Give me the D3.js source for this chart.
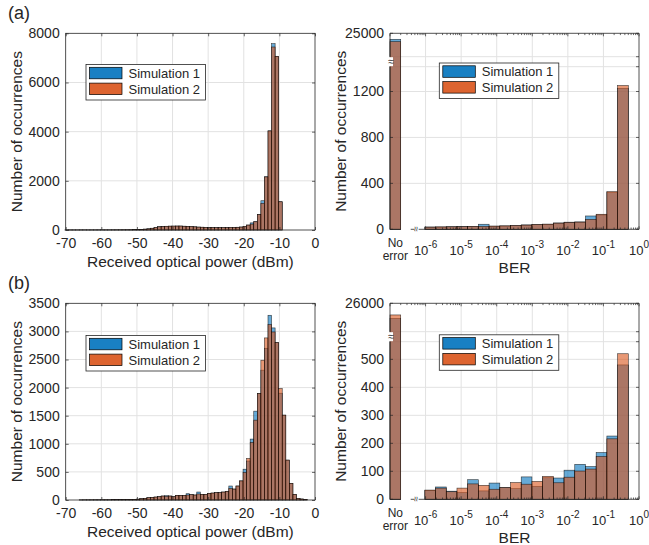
<!DOCTYPE html>
<html>
<head>
<meta charset="utf-8">
<script src="https://cdnjs.cloudflare.com/ajax/libs/d3/7.8.5/d3.min.js"></script>
<style>
  body { margin: 0; background: #fff; }
  svg { display: block; font-family: "Liberation Sans", Arial, sans-serif; }
</style>
</head>
<body>
<div id="chart"></div>
<script>
// ---------- data ----------
const legendLabels = ["Simulation 1", "Simulation 2"];
const panelLabels = ["(a)", "(b)"];

// received optical power histograms, 1 dBm bins starting at -70.2 dBm
const powerBinStart = -70.2;
const powerBinWidth = 1;
const powerTicks = [-70, -60, -50, -40, -30, -20, -10, 0];
const countTicksA = [0, 2000, 4000, 6000, 8000];
const countTicksB = [0, 500, 1000, 1500, 2000, 2500, 3000, 3500];

const powerA_sim1 = [
  4, 3, 4, 3, 5, 4, 4, 5, 4, 5, 6, 5, 6, 7, 7,
  8, 9, 10, 12, 15, 18,
  25, 35, 50, 70, 100,
  135, 145, 150, 155, 160, 162, 160, 155, 150, 140,
  130, 120, 112, 105, 100, 98, 96, 95, 96, 98,
  100, 105, 112, 122,
  149, 203, 290, 338, 636, 1191, 2165, 4033, 7579, 7065, 1150
];
const powerA_sim2 = [
  3, 4, 3, 4, 4, 5, 4, 4, 5, 5, 5, 6, 6, 6, 8,
  8, 10, 11, 12, 14, 19,
  24, 36, 48, 72, 98,
  130, 140, 152, 158, 158, 160, 162, 152, 148, 142,
  128, 118, 114, 104, 98, 97, 95, 96, 95, 97,
  102, 104, 110, 120,
  150, 200, 240, 335, 630, 1083, 2160, 4030, 7443, 7065, 1148
];

const powerB_sim1 = [
  0, 0, 0, 0,
  2, 3, 3, 3, 4, 4, 4, 5, 5, 6, 6, 7, 8, 9, 10, 12, 16,
  24, 30, 41, 47, 53, 59, 71,
  77, 71, 59, 83, 83, 83,
  112, 95, 89, 142, 100, 100,
  118, 124, 130, 130, 142, 154,
  249, 195, 249, 340,
  548, 693, 1084, 1581, 1895, 2310, 2700, 3287, 3062, 2801,
  1900, 1510, 710, 296, 100, 30, 18, 12
];
const powerB_sim2 = [
  0, 0, 0, 0,
  2, 3, 3, 4, 4, 4, 5, 5, 5, 6, 7, 7, 8, 9, 11, 12, 15,
  24, 30, 41, 47, 53, 59, 71,
  65, 71, 59, 83, 83, 83,
  89, 95, 89, 107, 100, 100,
  118, 124, 130, 130, 142, 154,
  207, 195, 249, 340,
  490, 740, 1024, 1421, 1895, 2487, 2884, 3121, 2990, 2801,
  1984, 1510, 710, 296, 100, 30, 18, 12
];

// BER histograms: factor-of-2 bins from ~1e-6 up to 0.5, plus a "No error" bar
const berBinEdges = d3.range(20).map(i => 0.5 / 2 ** (19 - i));
const berTickExps = [-6, -5, -4, -3, -2, -1, 0];
const berLowTicksA = [0, 400, 800, 1200];
const berHighTickA = 25000;
const berLowTicksB = [0, 100, 200, 300, 400, 500];
const berHighTickB = 26000;

const noErrorA = [24744, 24641];
const noErrorB = [25470, 25590];

const berA_sim1 = [20, 20, 22, 24, 24, 44, 27, 29, 32, 38, 41, 44, 55, 62, 64, 116, 125, 320, 1228];
const berA_sim2 = [19, 21, 22, 23, 25, 26, 28, 30, 33, 37, 42, 45, 54, 61, 63, 87, 131, 328, 1252];
const berB_sim1 = [31, 44, 29, 24, 70, 30, 58, 42, 38, 80, 46, 77, 76, 104, 125, 117, 167, 226, 480];
const berB_sim2 = [33, 40, 27, 40, 55, 50, 36, 42, 60, 54, 64, 82, 59, 79, 101, 108, 153, 216, 520];

// ---------- setup ----------
const W = 649, H = 545;
const colors = ["#0072BD", "#D95319"];
const gridColor = "#e2e2e2";
const ink = "#262626";
const barAlpha = 0.6;

const svg = d3.select("#chart").append("svg")
  .attr("width", W).attr("height", H);

function styleAxis(g) {
  g.select(".domain").remove();
  g.selectAll(".tick line").attr("stroke", ink).attr("stroke-width", 0.7);
  g.selectAll(".tick text").attr("fill", ink);
  g.attr("font-family", null).attr("font-size", 14);
}

function drawBars(g, x, y, rows, color) {
  g.append("g")
    .selectAll("rect")
    .data(rows.filter(d => d.v > 0))
    .join("rect")
    .attr("x", d => x(d.x0))
    .attr("width", d => x(d.x1) - x(d.x0))
    .attr("y", d => y(d.v))
    .attr("height", d => y(0) - y(d.v))
    .attr("fill", color)
    .attr("fill-opacity", barAlpha)
    .attr("stroke", "#000")
    .attr("stroke-opacity", 0.75)
    .attr("stroke-width", 0.6);
}

function drawLegend(bx, by) {
  const g = svg.append("g").attr("transform", `translate(${bx},${by})`);
  g.append("rect")
    .attr("width", 119.5).attr("height", 35.5)
    .attr("fill", "#fff").attr("stroke", ink).attr("stroke-width", 0.8);
  legendLabels.forEach((lab, i) => {
    g.append("rect")
      .attr("x", 3.5).attr("y", 2.8 + i * 15.8)
      .attr("width", 32.5).attr("height", 11.5)
      .attr("fill", colors[i]).attr("fill-opacity", 0.9)
      .attr("stroke", "#000").attr("stroke-width", 0.7);
    g.append("text")
      .attr("x", 42.5).attr("y", 13.2 + i * 15.8)
      .attr("font-size", 13).attr("fill", ink)
      .text(lab);
  });
}

function yLabel(xPos, yMid) {
  svg.append("text")
    .attr("transform", `translate(${xPos},${yMid}) rotate(-90)`)
    .attr("text-anchor", "middle")
    .attr("font-size", 15.5).attr("fill", ink)
    .text("Number of occurrences");
}

// ---------- received power panels ----------
function drawPowerPanel(box, yMax, yTicks, sim1, sim2, labelY) {
  const x = d3.scaleLinear().domain([-70, 0]).range([box.left, box.right]);
  const y = d3.scaleLinear().domain([0, yMax]).range([box.bottom, box.top]);
  const g = svg.append("g");

  // grid
  g.append("g").selectAll("line").data(powerTicks.slice(1, -1)).join("line")
    .attr("x1", d => x(d)).attr("x2", d => x(d))
    .attr("y1", box.top).attr("y2", box.bottom)
    .attr("stroke", gridColor);
  g.append("g").selectAll("line").data(yTicks.slice(1, -1)).join("line")
    .attr("x1", box.left).attr("x2", box.right)
    .attr("y1", d => y(d)).attr("y2", d => y(d))
    .attr("stroke", gridColor);

  [sim1, sim2].forEach((vals, si) => {
    const rows = vals.map((v, i) => ({
      v,
      x0: powerBinStart + i * powerBinWidth,
      x1: powerBinStart + (i + 1) * powerBinWidth
    }));
    drawBars(g, x, y, rows, colors[si]);
  });

  // axes with inward ticks on all four sides
  g.append("g").attr("transform", `translate(0,${box.bottom})`)
    .call(d3.axisBottom(x).tickValues(powerTicks).tickSize(-3).tickPadding(8)
      .tickFormat(d => String(d)))
    .call(styleAxis);
  g.append("g").attr("transform", `translate(0,${box.top})`)
    .call(d3.axisTop(x).tickValues(powerTicks).tickSize(-3).tickFormat(""))
    .call(styleAxis);
  g.append("g").attr("transform", `translate(${box.left},0)`)
    .call(d3.axisLeft(y).tickValues(yTicks).tickSize(-3).tickPadding(6)
      .tickFormat(d => String(d)))
    .call(styleAxis);
  g.append("g").attr("transform", `translate(${box.right},0)`)
    .call(d3.axisRight(y).tickValues(yTicks).tickSize(-3).tickFormat(""))
    .call(styleAxis);

  g.append("rect")
    .attr("x", box.left).attr("y", box.top)
    .attr("width", box.right - box.left).attr("height", box.bottom - box.top)
    .attr("fill", "none").attr("stroke", ink).attr("stroke-width", 0.8);

  yLabel(22, (box.top + box.bottom) / 2);
  svg.append("text")
    .attr("x", (box.left + box.right) / 2).attr("y", labelY)
    .attr("text-anchor", "middle").attr("font-size", 15.5).attr("fill", ink)
    .text("Received optical power (dBm)");
}

// ---------- BER panels (broken y axis) ----------
function drawBerPanel(box, cfg, lowTicks, highTick, noError, sim1, sim2, labelY) {
  const x = d3.scaleLog().domain([1e-7, 1]).range([box.left, box.right]);
  const yLow = d3.scaleLinear().domain([0, cfg.lowMax]).range([box.bottom, cfg.lowTop]);
  const yHigh = d3.scaleLinear().domain([cfg.highMin, highTick]).range([cfg.highBottom, box.top]);
  const y = v => (v >= cfg.highMin ? yHigh(v) : yLow(v));
  const g = svg.append("g");

  // grid
  const vGrid = berTickExps.slice(0, -1).map(e => 10 ** e);
  g.append("g").selectAll("line").data(vGrid).join("line")
    .attr("x1", d => x(d)).attr("x2", d => x(d))
    .attr("y1", box.top).attr("y2", box.bottom)
    .attr("stroke", gridColor);
  g.append("g").selectAll("line")
    .data(lowTicks.slice(1).map(yLow).concat([cfg.lowTop, cfg.highBottom]))
    .join("line")
    .attr("x1", box.left).attr("x2", box.right)
    .attr("y1", d => d).attr("y2", d => d)
    .attr("stroke", gridColor);

  [sim1, sim2].forEach((vals, si) => {
    const rows = vals.map((v, i) => ({ v, x0: berBinEdges[i], x1: berBinEdges[i + 1] }));
    rows.unshift({ v: noError[si], x0: 1e-7, x1: 2e-7 });
    drawBars(g, x, y, rows, colors[si]);
  });

  // x tick marks (log, with minor ticks) top and bottom
  const minor = [];
  for (let e = -7; e < 0; e++) for (let k = 1; k <= 9; k++) minor.push(k * 10 ** e);
  minor.push(1);
  const isMajor = d => Math.abs(Math.log10(d) - Math.round(Math.log10(d))) < 1e-9;
  g.append("g").selectAll("line").data(minor).join("line")
    .attr("x1", d => x(d)).attr("x2", d => x(d))
    .attr("y1", box.top).attr("y2", d => box.top + (isMajor(d) ? 3 : 1.8))
    .attr("stroke", ink).attr("stroke-width", 0.7);
  g.append("g").selectAll("line").data(minor.filter(d => d >= 1e-6)).join("line")
    .attr("x1", d => x(d)).attr("x2", d => x(d))
    .attr("y1", box.bottom).attr("y2", d => box.bottom - (isMajor(d) ? 3 : 1.8))
    .attr("stroke", ink).attr("stroke-width", 0.7);

  // y tick marks left and right
  const yTickPos = lowTicks.map(yLow).concat([box.top]);
  g.append("g").selectAll("line").data(yTickPos).join("line")
    .attr("x1", box.left).attr("x2", box.left + 3)
    .attr("y1", d => d).attr("y2", d => d)
    .attr("stroke", ink).attr("stroke-width", 0.7);
  g.append("g").selectAll("line").data(yTickPos.concat([cfg.lowTop, cfg.highBottom])).join("line")
    .attr("x1", box.right).attr("x2", box.right - 3)
    .attr("y1", d => d).attr("y2", d => d)
    .attr("stroke", ink).attr("stroke-width", 0.7);

  // y tick labels
  g.append("g").selectAll("text").data(lowTicks).join("text")
    .attr("x", box.left - 6).attr("y", d => yLow(d)).attr("dy", "0.32em")
    .attr("text-anchor", "end").attr("font-size", 14).attr("fill", ink)
    .text(d => String(d));
  g.append("text")
    .attr("x", box.left - 6).attr("y", box.top).attr("dy", "0.32em")
    .attr("text-anchor", "end").attr("font-size", 14).attr("fill", ink)
    .text(String(highTick));

  // x tick labels 10^n
  const xl = g.append("g").selectAll("text").data(berTickExps).join("text")
    .attr("x", d => x(10 ** d)).attr("y", box.bottom + 26)
    .attr("text-anchor", "middle").attr("font-size", 13).attr("fill", ink);
  xl.append("tspan").text("10");
  xl.append("tspan").attr("dy", -7).attr("font-size", 10).text(d => String(d));

  const neX = x(Math.sqrt(2) * 1e-7);
  g.append("text").attr("x", neX).attr("y", box.bottom + 18)
    .attr("text-anchor", "middle").attr("font-size", 12).attr("fill", ink).text("No");
  g.append("text").attr("x", neX).attr("y", box.bottom + 31)
    .attr("text-anchor", "middle").attr("font-size", 12).attr("fill", ink).text("error");

  // box lines: left axis broken, bottom axis broken
  const line = (x1, y1, x2, y2) => g.append("line")
    .attr("x1", x1).attr("y1", y1).attr("x2", x2).attr("y2", y2)
    .attr("stroke", ink).attr("stroke-width", 0.8);
  line(box.left, box.top, box.right, box.top);
  line(box.right, box.top, box.right, box.bottom);
  line(box.left, box.top, box.left, cfg.highBottom);
  line(box.left, cfg.lowTop, box.left, box.bottom);
  line(box.left, box.bottom, x(2e-7), box.bottom);
  line(x(2e-7) + 10, box.bottom, x(2e-7) + 13.5, box.bottom);
  line(x(2e-7) + 18, box.bottom, box.right, box.bottom);

  // break symbols
  g.append("rect")
    .attr("x", box.left - 3).attr("y", cfg.highBottom + 0.5)
    .attr("width", 6).attr("height", cfg.lowTop - cfg.highBottom - 1)
    .attr("fill", "#fff");
  g.append("text")
    .attr("x", box.left + 1).attr("y", (cfg.highBottom + cfg.lowTop) / 2)
    .attr("dy", "0.35em").attr("text-anchor", "middle")
    .attr("font-size", 10).attr("fill", ink).text("\u2248");
  g.append("text")
    .attr("transform", `translate(${x(2e-7) + 15.8},${box.bottom}) rotate(90)`)
    .attr("dy", "0.35em").attr("text-anchor", "middle")
    .attr("font-size", 9).attr("fill", ink).text("\u2248");

  yLabel(box.left - 44.5, (box.top + box.bottom) / 2);
  svg.append("text")
    .attr("x", (box.left + box.right) / 2).attr("y", labelY)
    .attr("text-anchor", "middle").attr("font-size", 15.5).attr("fill", ink)
    .text("BER");
}

// ---------- draw ----------
const boxA = { left: 65.7, right: 315, top: 33.3, bottom: 230 };
const boxB = { left: 65.7, right: 315, top: 303.3, bottom: 500 };
const boxC = { left: 390, right: 639, top: 33.3, bottom: 229.3 };
const boxD = { left: 390, right: 639, top: 303.3, bottom: 499.3 };

drawPowerPanel(boxA, 8000, countTicksA, powerA_sim1, powerA_sim2, 267);
drawPowerPanel(boxB, 3500, countTicksB, powerB_sim1, powerB_sim2, 537);

drawBerPanel(boxC, { lowMax: 1416, lowTop: 66.7, highMin: 24000, highBottom: 56.7 },
  berLowTicksA, berHighTickA, noErrorA, berA_sim1, berA_sim2, 273);
drawBerPanel(boxD, { lowMax: 563, lowTop: 341.7, highMin: 25000, highBottom: 331.7 },
  berLowTicksB, berHighTickB, noErrorB, berB_sim1, berB_sim2, 543);

drawLegend(86, 64.5);
drawLegend(86, 335.5);
drawLegend(439.3, 63);
drawLegend(439.3, 334.8);

panelLabels.forEach((lab, i) => {
  svg.append("text")
    .attr("x", 8).attr("y", i === 0 ? 19 : 289)
    .attr("font-size", 18).attr("fill", ink)
    .text(lab);
});
</script>
</body>
</html>
